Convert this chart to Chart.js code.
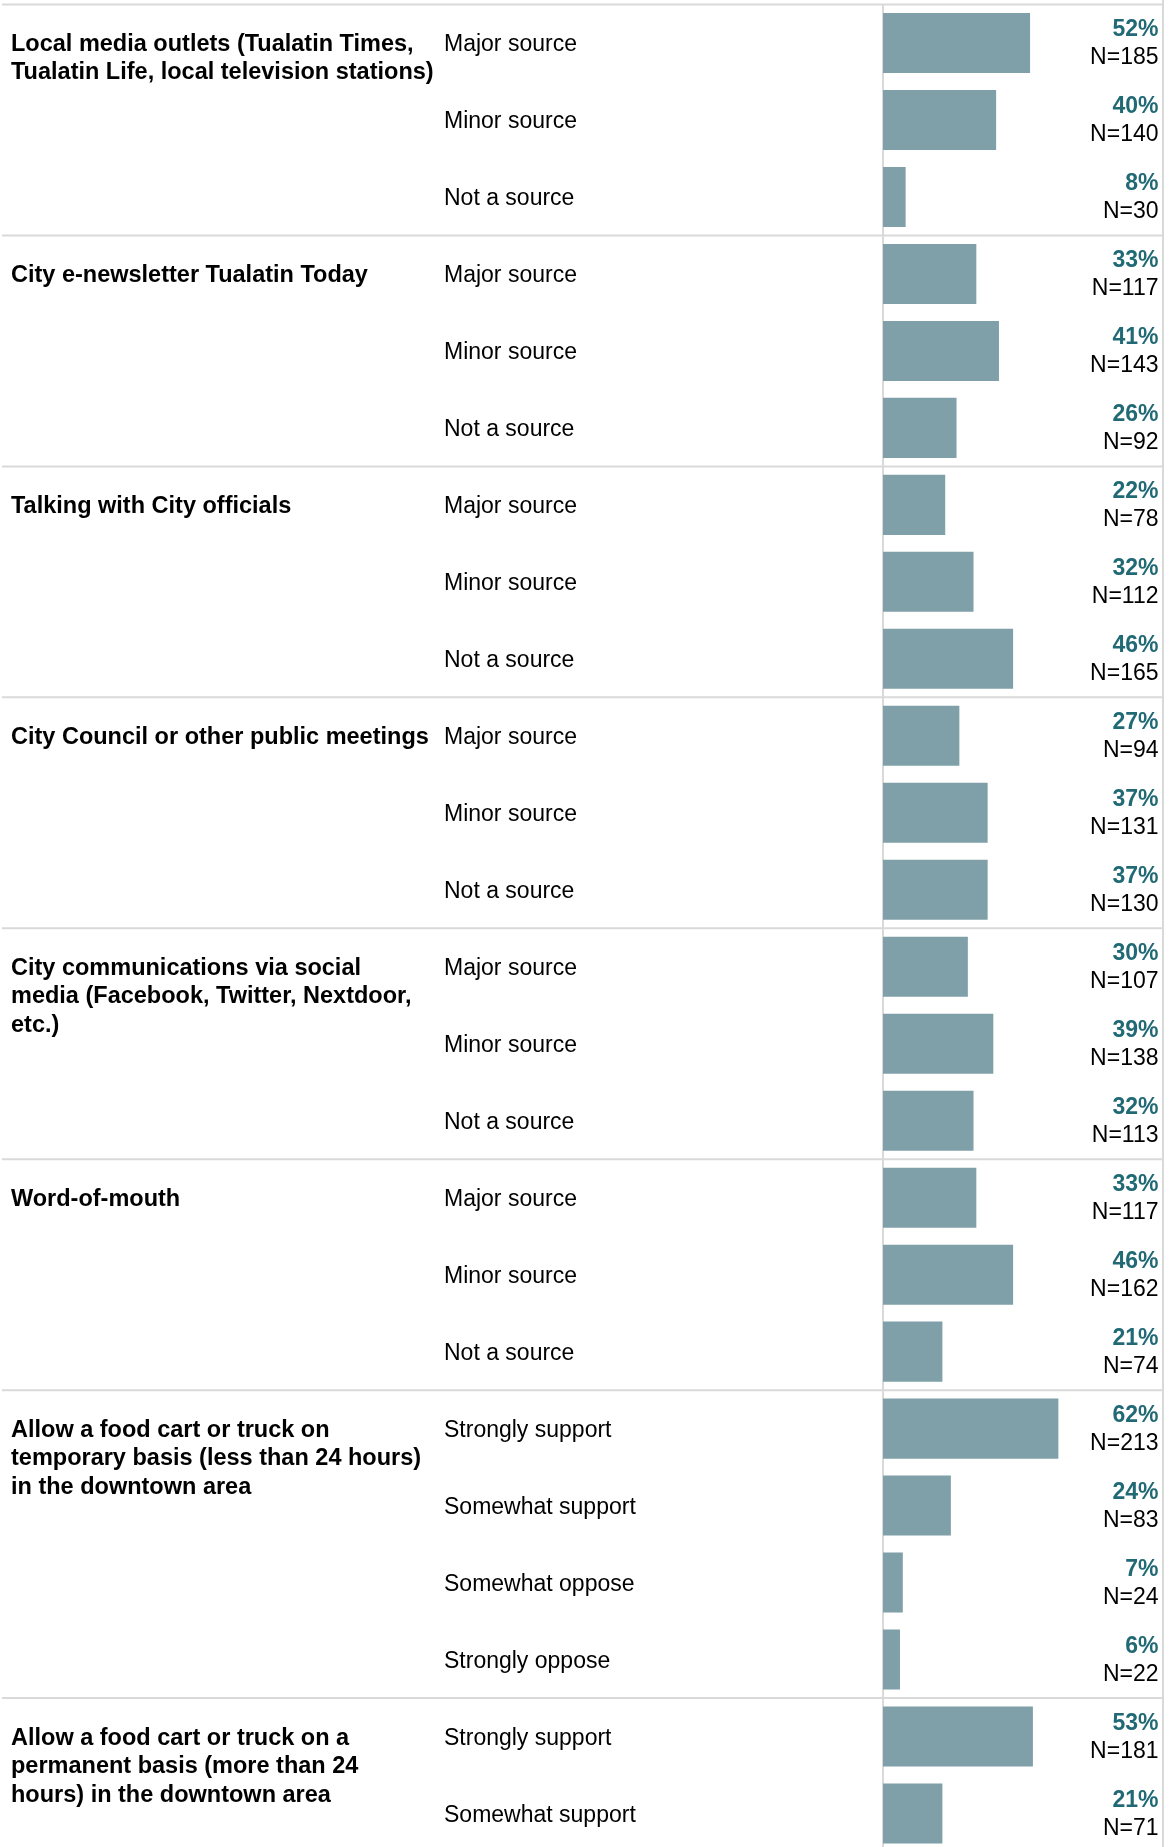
<!DOCTYPE html>
<html>
<head>
<meta charset="utf-8">
<script src="https://cdn.jsdelivr.net/npm/chart.js@4"></script>
<style>
  html, body { margin: 0; padding: 0; background: #fff; }
  #wrap { width: 1176px; height: 1847px; overflow: hidden; position: relative; }
  canvas { display: block; }
</style>
</head>
<body>
<div id="wrap"><canvas id="sourceChart" width="1176" height="1852"></canvas></div>
<script>
// question labels (already wrapped like the original) and how many answers each has
const groupLabels = [
    ['Local media outlets (Tualatin Times,', 'Tualatin Life, local television stations)'],
    ['City e-newsletter Tualatin Today'],
    ['Talking with City officials'],
    ['City Council or other public meetings'],
    ['City communications via social', 'media (Facebook, Twitter, Nextdoor,', 'etc.)'],
    ['Word-of-mouth'],
    ['Allow a food cart or truck on', 'temporary basis (less than 24 hours)', 'in the downtown area'],
    ['Allow a food cart or truck on a', 'permanent basis (more than 24', 'hours) in the downtown area']
];
const groupSizes = [3, 3, 3, 3, 3, 3, 4, 2];

const responseLabels = [
    'Major source', 'Minor source', 'Not a source',
    'Major source', 'Minor source', 'Not a source',
    'Major source', 'Minor source', 'Not a source',
    'Major source', 'Minor source', 'Not a source',
    'Major source', 'Minor source', 'Not a source',
    'Major source', 'Minor source', 'Not a source',
    'Strongly support', 'Somewhat support', 'Somewhat oppose', 'Strongly oppose',
    'Strongly support', 'Somewhat support'
];
const percentValues = [52, 40, 8, 33, 41, 26, 22, 32, 46, 27, 37, 37, 30, 39, 32, 33, 46, 21, 62, 24, 7, 6, 53, 21];
const countValues = [185, 140, 30, 117, 143, 92, 78, 112, 165, 94, 131, 130, 107, 138, 113, 117, 162, 74, 213, 83, 24, 22, 181, 71];

const FONT = '"Liberation Sans", Arial, Helvetica, sans-serif';
const lineColor = '#d9d9d9';

// text columns, group separators and the right frame line
const tablePlugin = {
    id: 'tablePlugin',
    afterDraw: function(chart) {
        const ctx = chart.ctx;
        const y = chart.scales.y;
        const area = chart.chartArea;
        const step = y.getPixelForValue(1) - y.getPixelForValue(0);

        ctx.save();
        ctx.strokeStyle = lineColor;
        ctx.lineWidth = 2;

        // right frame line
        ctx.beginPath();
        ctx.moveTo(area.right, 0);
        ctx.lineTo(area.right, chart.height);
        ctx.stroke();

        let start = 0;
        groupSizes.forEach(function(size, g) {
            let top = y.getPixelForValue(start) - step / 2;
            ctx.beginPath();
            ctx.moveTo(2, top);
            ctx.lineTo(area.right, top);
            ctx.stroke();

            // question label, first line level with the first answer
            ctx.fillStyle = '#000';
            ctx.font = 'bold 23.5px ' + FONT;
            ctx.textAlign = 'left';
            ctx.textBaseline = 'alphabetic';
            let base = y.getPixelForValue(start) + 8;
            groupLabels[g].forEach(function(line, i) {
                ctx.fillText(line, 11, base + i * 28.5);
            });
            start += size;
        });

        responseLabels.forEach(function(label, i) {
            let cy = y.getPixelForValue(i);
            ctx.textAlign = 'left';
            ctx.font = '23px ' + FONT;
            ctx.fillStyle = '#000';
            ctx.fillText(label, 444, cy + 8);

            ctx.textAlign = 'right';
            ctx.font = 'bold 23px ' + FONT;
            ctx.fillStyle = '#216a75';
            ctx.fillText(percentValues[i] + '%', area.right - 4.5, cy - 6.5);
            ctx.font = '23px ' + FONT;
            ctx.fillStyle = '#000';
            ctx.fillText('N=' + countValues[i], area.right - 4.5, cy + 21);
        });
        ctx.restore();
    }
};

var ctx = document.getElementById('sourceChart').getContext('2d');
var sourceChart = new Chart(ctx, {
    type: 'bar',
    data: {
        labels: responseLabels,
        datasets: [{
            data: percentValues,
            backgroundColor: '#7fa0a8',
            borderWidth: 0,
            barPercentage: 0.78,
            categoryPercentage: 1
        }]
    },
    options: {
        indexAxis: 'y',
        responsive: false,
        animation: false,
        layout: {
            padding: { top: 4.5, right: 13, bottom: 0, left: 0 }
        },
        plugins: {
            legend: { display: false },
            tooltip: { enabled: false }
        },
        scales: {
            x: {
                display: false,
                min: 0,
                max: 99
            },
            y: {
                grid: { display: false },
                ticks: { display: false },
                border: { display: true, color: lineColor, width: 2 },
                afterFit: function(scale) {
                    scale.width = 883;
                }
            }
        }
    },
    plugins: [tablePlugin]
});
</script>
</body>
</html>
